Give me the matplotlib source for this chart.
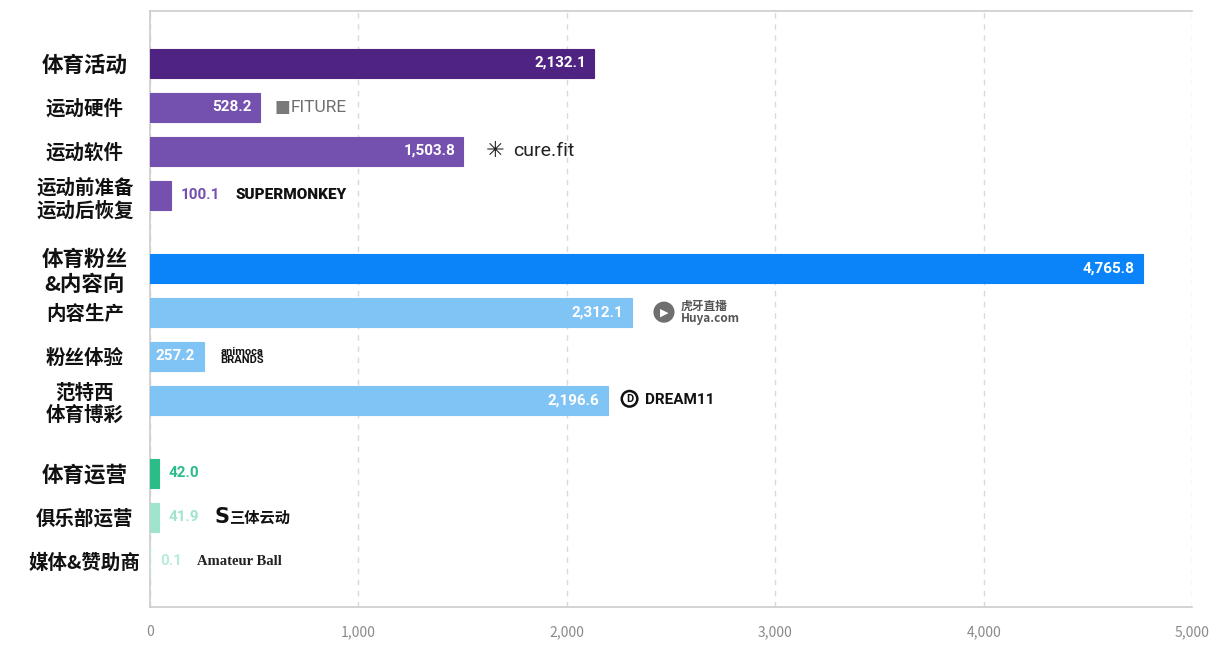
import matplotlib.pyplot as plt

plt.rcParams['font.family'] = ['Noto Sans CJK SC', 'DejaVu Sans']

# data
categories = ['体育活动', '运动硬件', '运动软件', '运动前准备\n运动后恢复',
              '体育粉丝\n&内容向', '内容生产', '粉丝体验', '范特西\n体育博彩',
              '体育运营', '俱乐部运营', '媒体&赞助商']
values = [2132.1, 528.2, 1503.8, 100.1, 4765.8, 2312.1, 257.2, 2196.6, 42.0, 41.9, 0.1]
is_header = [True, False, False, False, True, False, False, False, True, False, False]
brands = ['', 'FITURE', 'cure.fit', 'SUPERMONKEY', '', '虎牙直播\nHuya.com',
          'animoca\nBRANDS', 'DREAM11', '', '三体云动', 'Amateur Ball']
xticks = [0, 1000, 2000, 3000, 4000, 5000]

colors = ['#4f2381', '#7450af', '#7450af', '#7450af',
          '#0a84f8', '#7fc4f5', '#7fc4f5', '#7fc4f5',
          '#2bbd87', '#a0e4cd', '#b5ebda']

# bar positions with a gap before every group header
pos = []
y = 0
for i, h in enumerate(is_header):
    if h and i > 0:
        y += 0.66
    pos.append(y)
    y += 1

fig = plt.figure(figsize=(12.14, 6.53), dpi=100)
ax = fig.add_axes([0.1236, 0.0704, 0.982 - 0.1236, 0.983 - 0.0704])

ax.barh(pos, values, height=0.66, color=colors, edgecolor=colors, linewidth=0.8, zorder=3)
ax.set_xlim(0, 5000)
ax.set_ylim(12.36, -1.18)

ax.set_xticks(xticks)
ax.set_xticklabels([f'{t:,}' for t in xticks])
ax.tick_params(axis='x', length=0, pad=13, labelsize=10, labelcolor='#8a8a8a')
ax.xaxis.grid(True, color='#dadada', linestyle=(0, (4, 4)), linewidth=1, zorder=0)

ax.set_yticks(pos)
ax.set_yticklabels(categories)
ax.tick_params(axis='y', length=0, pad=47)
for lab, h in zip(ax.get_yticklabels(), is_header):
    lab.set_horizontalalignment('center')
    lab.set_fontsize(15.5 if h else 14)
    lab.set_fontweight('bold')
    lab.set_linespacing(1.25)
    lab.set_color('#111111')

for s in ['top', 'left', 'bottom']:
    ax.spines[s].set_color('#cccccc')
    ax.spines[s].set_linewidth(1.2)
ax.spines['right'].set_visible(False)

vfont = dict(family=['Roboto', 'DejaVu Sans'], fontweight='bold', fontsize=11)
for p, v, c, b in zip(pos, values, colors, brands):
    txt = f'{v:,.1f}'
    if v > 200:
        lab = ax.annotate(txt, xy=(v, p), xytext=(-6, 0), textcoords='offset points',
                          ha='right', va='center', color='white', **vfont)
        anchor, gap = (v, p), 10
        acoords = 'data'
    else:
        lab = ax.annotate(txt, xy=(v, p), xytext=(7, 0), textcoords='offset points',
                          ha='left', va='center', color=c, **vfont)
        anchor, gap = (1, 0.5), 11
        acoords = lab
    if not b:
        continue
    kw = dict(xy=anchor, xycoords=acoords, textcoords='offset points',
              ha='left', va='center', zorder=4)
    if b == 'FITURE':
        ax.annotate('■', xytext=(gap, 0), color='#7a7a7a', fontsize=12,
                    family=['DejaVu Sans'], **kw)
        ax.annotate(b, xytext=(gap + 12, 0), color='#6f6f6f', fontsize=12.5,
                    family=['Roboto'], **kw)
    elif b == 'cure.fit':
        ax.annotate('✳', xytext=(gap + 6, 0), color='#222222', fontsize=16,
                    family=['DejaVu Sans'], **kw)
        ax.annotate(b, xytext=(gap + 26, 0), color='#222222', fontsize=14,
                    family=['Roboto'], **kw)
    elif b == 'SUPERMONKEY':
        ax.annotate(b, xytext=(gap, 0), color='#111111', fontsize=11,
                    family=['Roboto'], fontweight='black', **kw)
    elif b.startswith('虎牙'):
        ax.annotate('▶', xytext=(gap + 10, 0), color='white', fontsize=8,
                    family=['DejaVu Sans'],
                    bbox=dict(boxstyle='circle,pad=0.5', fc='#6f6f6f', ec='none'), **kw)
        ax.annotate(b, xytext=(gap + 25, 0), color='#555555', fontsize=8.5,
                    fontweight='bold', linespacing=0.95, **kw)
    elif b.startswith('animoca'):
        ax.annotate(b, xytext=(gap + 2, 0), color='#111111', fontsize=8,
                    family=['Roboto'], fontweight='bold', linespacing=0.8, **kw)
    elif b == 'DREAM11':
        ax.annotate('D', xytext=(gap + 3, 1), color='#111111', fontsize=8,
                    family=['Roboto'], fontweight='bold',
                    bbox=dict(boxstyle='circle,pad=0.25', fc='white', ec='#111111', lw=1.8),
                    **kw)
        ax.annotate(b, xytext=(gap + 17, 0), color='#111111', fontsize=11,
                    family=['Roboto'], fontweight='bold', **kw)
    elif b == '三体云动':
        ax.annotate('S', xytext=(gap, 0), color='#111111', fontsize=15,
                    family=['DejaVu Sans'], fontweight='bold', **kw)
        ax.annotate(b, xytext=(gap + 11, 0), color='#111111', fontsize=11,
                    fontweight='black', **kw)
    else:
        ax.annotate(b, xytext=(gap, 0), color='#222222', fontsize=10.5,
                    family=['Liberation Serif'], fontweight='bold', **kw)

fig.savefig('out.png', dpi=100)
